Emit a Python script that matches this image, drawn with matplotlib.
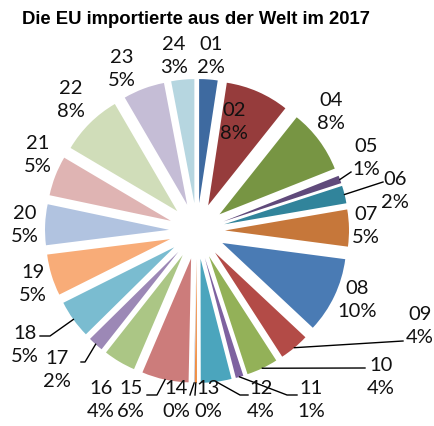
import numpy as np
import matplotlib.pyplot as plt

# EU imports from the world 2017, share per product group
codes = ["01", "02", "04", "05", "06", "07", "08", "09", "10", "11", "12", "13",
         "14", "15", "16", "17", "18", "19", "20", "21", "22", "23", "24"]
shares = [2.4, 8.3, 8.3, 1.0, 2.3, 4.8, 9.9, 3.9, 4.1, 1.0, 4.0, 0.3,
          0.05, 6.1, 4.2, 2.0, 5.0, 5.4, 5.3, 5.2, 8.1, 5.4, 3.0]

colors = ["#3E6AA0", "#963C3C", "#779543", "#604A7B", "#31849B", "#C6773A",
          "#4A7BB4", "#B34B47", "#93B158", "#7E62A0", "#4BA5BD", "#F09046",
          "#7F9ED0", "#CC7C7B", "#ABC685", "#9C88B6", "#7ABCD0", "#F8AC78",
          "#B1C3E0", "#DFB4B3", "#D0DDB9", "#C5BDD6", "#B6D6E0"]

W, H = 435, 427

# label centres in picture pixels (x right, y down)
label_pos = {
    "01": (211, 56), "02": (234, 122), "04": (331, 112), "05": (366, 158),
    "06": (395, 191), "07": (366, 226), "08": (357, 300), "09": (420, 326),
    "10": (381, 377), "11": (311, 400), "12": (261, 400), "13": (208, 400),
    "14": (176, 400), "15": (131, 400), "16": (101, 400), "17": (57, 370),
    "18": (25, 345), "19": (33, 284), "20": (25, 225), "21": (38, 155),
    "22": (71, 100), "23": (122, 69), "24": (174, 56),
}

# leader line knees (picture pixels), drawn from the slice edge
leaders = {
    "05": [(351, 173)],
    "06": [(383, 183)],
    "09": [(403, 342)],
    "10": [(365, 369)],
    "11": [(287, 396), (297, 396)],
    "12": [(240, 396), (248, 396)],
    "13": [(195, 396)],
    "14": [(190, 396)],
    "15": [(157, 396), (147, 396)],
    "17": [(85, 363), (81, 363)],
    "18": [(50, 337), (40, 337)],
}


def flip(p):
    return (p[0], H - p[1])


fig = plt.figure(figsize=(W / 100, H / 100), dpi=100)
ax = fig.add_axes([0, 0, 1, 1])

total = sum(shares)
# explode is in data units here (pixels)
wedges, _ = ax.pie(shares,
                   colors=colors,
                   explode=[28] * len(shares),
                   startangle=90,
                   counterclock=False,
                   radius=124,
                   center=flip((197, 232)),
                   wedgeprops=dict(linewidth=0))

ax.set_xlim(0, W)
ax.set_ylim(0, H)
ax.set_aspect("equal")
ax.axis("off")

for code, share, wedge in zip(codes, shares, wedges):
    pct = int(round(share / total * 100))
    x, y = flip(label_pos[code])
    ax.text(x, y, f"{code}\n{pct}%", ha="center", va="center",
            fontsize=14.5, family="Lato", linespacing=1.45, color="#111111")

    if code in leaders:
        mid = np.deg2rad((wedge.theta1 + wedge.theta2) / 2)
        cx, cy = wedge.center
        start = (cx + wedge.r * np.cos(mid), cy + wedge.r * np.sin(mid))
        pts = [start] + [flip(p) for p in leaders[code]]
        xs, ys = zip(*pts)
        ax.plot(xs, ys, color="black", lw=1)

fig.text(22 / W, 1 - 20 / H, "Die EU importierte aus der Welt im 2017",
         ha="left", va="center", fontsize=13.3, fontweight="bold",
         family="Liberation Sans")

fig.savefig("out.png", dpi=100)
